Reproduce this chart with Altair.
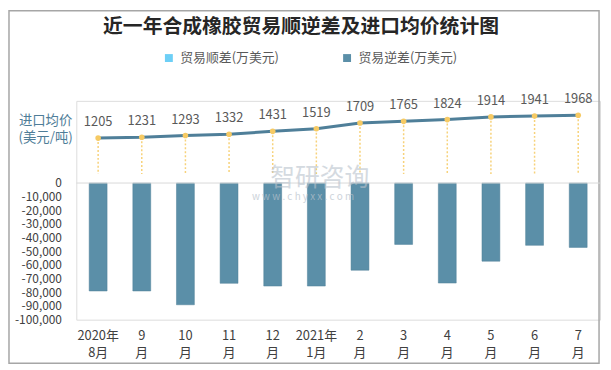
import altair as alt
import pandas as pd

months = ["2020年\n8月", "9\n月", "10\n月", "11\n月", "12\n月", "2021年\n1月",
          "2\n月", "3\n月", "4\n月", "5\n月", "6\n月", "7\n月"]
deficit = [-79000, -79000, -89100, -73400, -75400, -75400,
           -63800, -44900, -73200, -57200, -45600, -47100]
price = [1205, 1231, 1293, 1332, 1431, 1519, 1709, 1765, 1824, 1914, 1941, 1968]
series = ["贸易顺差(万美元)", "贸易逆差(万美元)"]
series_colors = ["#6dcff6", "#5b8fa8"]
y_ticks = [0, -10000, -20000, -30000, -40000, -50000, -60000, -70000, -80000, -90000, -100000]
title_text = "近一年合成橡胶贸易顺逆差及进口均价统计图"
price_axis_title = ["进口均价", "(美元/吨)"]
watermark = ["智研咨询", "w w w . c h y x x . c o m"]

FONT = "Noto Sans CJK SC"
W, H = 529, 221

df = pd.DataFrame({"month": months, "deficit": deficit, "price": price,
                   "series": [series[1]] * len(months)})

x_enc = alt.X("month:N", sort=months,
              scale=alt.Scale(paddingInner=0.59, paddingOuter=0.295),
              axis=alt.Axis(title=None, labelAngle=0, domain=False, ticks=False,
                            labelExpr="split(datum.label, '\\n')",
                            labelLineHeight=17, labelPadding=10,
                            labelFontSize=13, labelColor="#404040", labelFont=FONT))

bar_scale = alt.Scale(domain=[-100000, 60145], nice=False, zero=False)
price_scale = alt.Scale(domain=[-4868, 2450], nice=False, zero=False)

bar_axis = alt.Axis(title=None, values=y_ticks, grid=False, domain=False, ticks=False,
                    labelExpr="replace(format(datum.value, ','), '\u2212', '-')",
                    labelOverlap=False, labelBound=False,
                    labelPadding=15, labelFontSize=12, labelColor="#404040",
                    labelFont=FONT)

base = alt.Chart(df)

bars = base.mark_bar(stroke="#4d7f96", strokeWidth=0.5).encode(
    x=x_enc,
    y=alt.Y("deficit:Q", scale=bar_scale, axis=bar_axis),
    color=alt.Color("series:N",
                    scale=alt.Scale(domain=series, range=series_colors),
                    legend=alt.Legend(title=None, orient="none", legendX=87, legendY=-50,
                                      direction="horizontal", columnPadding=62,
                                      symbolType="square", symbolSize=64,
                                      symbolStrokeWidth=0, labelFontSize=13,
                                      labelColor="#595959", labelFont=FONT,
                                      labelOffset=5)),
)

zero_rule = alt.Chart(pd.DataFrame({"deficit": [0]})).mark_rule(color="#d9d9d9", strokeWidth=1).encode(
    y=alt.Y("deficit:Q", scale=bar_scale, axis=bar_axis),
    x=alt.value(0), x2=alt.value(W),
)

bar_layer = alt.layer(bars, zero_rule)

drops = base.mark_rule(color="#f7d27a", strokeWidth=1.5, strokeDash=[2, 2]).encode(
    x=x_enc,
    y=alt.Y("price:Q", scale=price_scale, axis=None),
    y2=alt.datum(0),
)
line = base.mark_line(color="#4f7f99", strokeWidth=3).encode(
    x=x_enc,
    y=alt.Y("price:Q", scale=price_scale, axis=None),
)
points = base.mark_circle(color="#f6ca64", size=32, opacity=1).encode(
    x=x_enc,
    y=alt.Y("price:Q", scale=price_scale, axis=None),
)
labels = base.mark_text(dy=-16, fontSize=13, color="#595959", font=FONT,
                        baseline="middle").encode(
    x=x_enc,
    y=alt.Y("price:Q", scale=price_scale, axis=None),
    text=alt.Text("price:Q", format="d"),
)
line_layer = alt.layer(drops, line, points, labels)

one = pd.DataFrame({"k": [0]})
border = alt.Chart(one).mark_rect(fill=None, filled=False, stroke="#a6a6a6", strokeWidth=1.5).encode(
    x=alt.value(-68), x2=alt.value(528), y=alt.value(-91), y2=alt.value(265))

title = alt.Chart(one).mark_text(text=title_text, fontSize=20, fontWeight="bold",
                                 font=FONT, color="#262626", align="center",
                                 baseline="middle").encode(
    x=alt.value(227), y=alt.value(-75))

price_title = alt.Chart(one).mark_text(text=price_axis_title, fontSize=13.5, font=FONT,
                                       color="#4f7d98", align="center", baseline="top",
                                       lineHeight=18).encode(
    x=alt.value(-31), y=alt.value(13))

wm1 = alt.Chart(one).mark_text(text=watermark[0], fontSize=25, font=FONT, color="#b8c2cc",
                               opacity=0.6, align="center", baseline="middle").encode(
    x=alt.value(246), y=alt.value(78))
wm2 = alt.Chart(one).mark_text(text=watermark[1], fontSize=10, font=FONT, color="#b8c2cc",
                               opacity=0.7, align="center", baseline="middle").encode(
    x=alt.value(229), y=alt.value(97))

chart = alt.layer(border, bar_layer, line_layer, wm1, wm2, title, price_title).resolve_scale(
    y="independent"
).properties(
    width=W, height=H,
    padding={"left": 69, "top": 92, "right": 3, "bottom": 45},
    autosize=alt.AutoSizeParams(type="none"),
).configure_view(stroke=None).configure(font=FONT)

chart.save("out.html", embed_options={"renderer": "svg", "actions": False})
